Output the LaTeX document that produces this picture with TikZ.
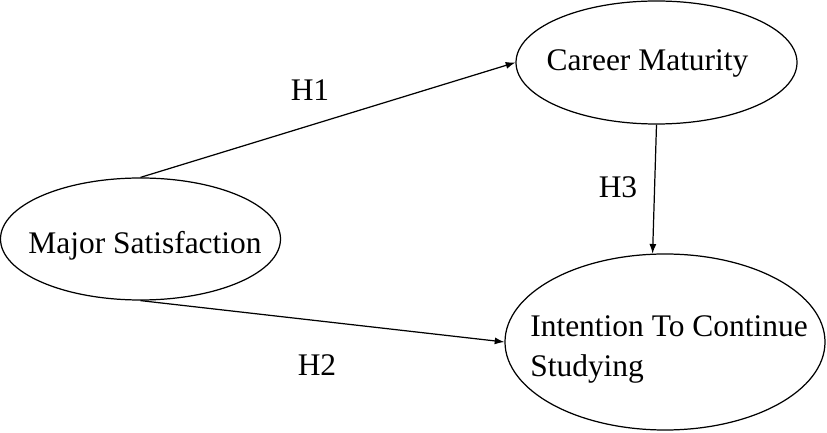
\documentclass[tikz,border=0pt]{standalone}
\usepackage{fontspec}
\setmainfont{Liberation Serif}
\usetikzlibrary{shapes.geometric,arrows.meta}

\begin{document}
\begin{tikzpicture}[
    var/.style={ellipse, draw, line width=0.7pt, inner sep=0pt},
    hyp/.style={-{Latex[length=5.5pt,width=4pt]}, line width=0.7pt},
    font=\fontsize{17.9pt}{22.7pt}\selectfont
  ]
    \useasboundingbox (0, 0) rectangle (16.54, 8.66);

    % Variablen
    \node[var, minimum width=5.6cm, minimum height=2.44cm,
      label={[name=MSt, xshift=0.09cm, yshift=-0.13cm]center:Major Satisfaction}] (MS) at (2.81, 3.88) {};
    \node[var, minimum width=5.62cm, minimum height=2.46cm,
      label={[name=CMt, xshift=-0.18cm, yshift=-0.02cm]center:Career Maturity}] (CM) at (13.13, 7.41) {};
    \node[var, minimum width=6.4cm, minimum height=3.52cm,
      label={[name=ITt, align=left, xshift=0.08cm, yshift=-0.15cm]center:Intention To Continue\\Studying}] (IT) at (13.30, 1.82) {};

    % Hypothesen
    \draw[hyp] (MS.north) -- (CM.west);
    \draw[hyp] (MS.south) -- (IT.west);
    \draw[hyp] (CM.south) -- (IT.98);

    \node (h1) at (6.20, 6.86) {H1};
    \node (h2) at (6.34, 1.36) {H2};
    \node (h3) at (12.36, 4.92) {H3};
  \end{tikzpicture}
\end{document}
